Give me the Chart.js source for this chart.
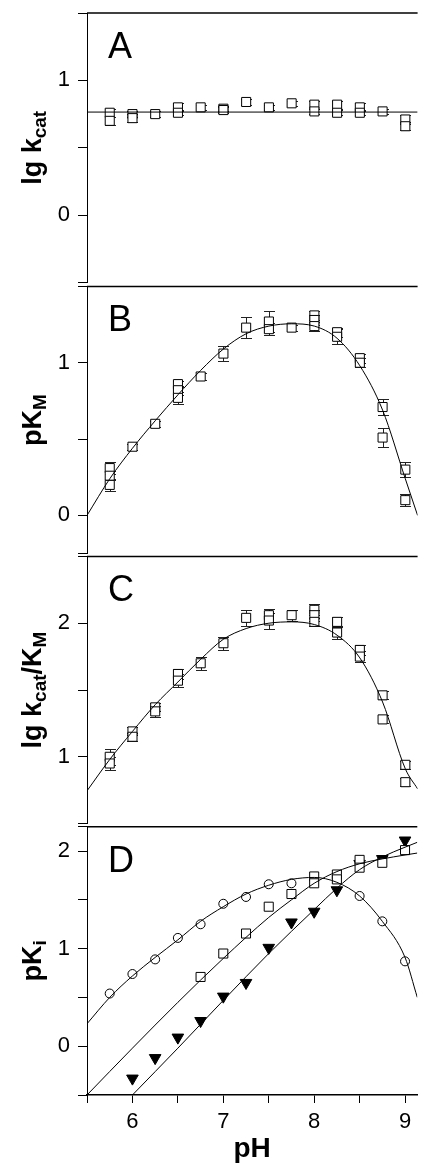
<!DOCTYPE html>
<html>
<head>
<meta charset="utf-8">
<script src="https://cdn.jsdelivr.net/npm/chart.js@4.4.1/dist/chart.umd.min.js"></script>
<style>
  html, body { margin: 0; padding: 0; background: #fff; }
  #wrap { position: relative; width: 425px; height: 1163px; overflow: hidden; }
  #wrap canvas { position: absolute; left: 0; }
</style>
</head>
<body>
<div id="wrap">
  <canvas id="chartA" width="425" height="290" style="top:0px"></canvas>
  <canvas id="chartB" width="425" height="282" style="top:279px"></canvas>
  <canvas id="chartC" width="425" height="282" style="top:549px"></canvas>
  <canvas id="chartD" width="425" height="344" style="top:819px"></canvas>
</div>
<script>
// pH axis
var phMin = 5.5, phMax = 9.135;
var xTicks = [5.5, 6, 6.5, 7, 7.5, 8, 8.5, 9];
var xTickLabels = [6, 7, 8, 9];

// Panel A: lg kcat
var phA = [5.75, 5.75, 6, 6, 6.25, 6.5, 6.5, 6.75, 7, 7, 7.25, 7.5, 7.75, 8, 8, 8.25, 8.25, 8.5, 8.5, 8.75, 9, 9];
var lgKcat = [0.76, 0.70, 0.75, 0.72, 0.75, 0.80, 0.76, 0.80, 0.79, 0.78, 0.84, 0.80, 0.83, 0.82, 0.77, 0.82, 0.76, 0.80, 0.76, 0.77, 0.71, 0.66];
var lgKcatErr = [0.03, 0.03, 0.02, 0.03, 0.02, 0.03, 0.02, 0.02, 0.02, 0.02, 0.02, 0.02, 0.02, 0.03, 0.02, 0.03, 0.02, 0.03, 0.02, 0.02, 0.03, 0.03];
var fitPhA = [5.5, 9.135];
var fitA = [0.765, 0.765];
var yTicksA = [-0.5, 0, 0.5, 1, 1.5];
var yLabelsA = [0, 1];

// Panel B: pKM
var phB = [5.75, 5.75, 5.75, 6, 6.25, 6.5, 6.5, 6.5, 6.75, 7, 7.25, 7.5, 7.5, 7.75, 8, 8, 8, 8.25, 8.25, 8.5, 8.5, 8.75, 8.75, 9, 9];
var pKM = [0.31, 0.26, 0.20, 0.45, 0.60, 0.86, 0.82, 0.77, 0.91, 1.06, 1.23, 1.27, 1.22, 1.23, 1.31, 1.28, 1.24, 1.20, 1.17, 1.03, 1.00, 0.71, 0.51, 0.30, 0.10];
var pKMErr = [0.04, 0.03, 0.04, 0.02, 0.02, 0.02, 0.03, 0.04, 0.02, 0.05, 0.07, 0.07, 0.04, 0.02, 0.03, 0.03, 0.03, 0.03, 0.05, 0.03, 0.03, 0.05, 0.06, 0.05, 0.04];
var fitPh = [5.5, 5.75, 6, 6.25, 6.5, 6.75, 7, 7.25, 7.5, 7.75, 8, 8.25, 8.5, 8.75, 9, 9.135];
var fitB = [0, 0.24, 0.44, 0.62, 0.79, 0.95, 1.09, 1.19, 1.24, 1.255, 1.24, 1.16, 0.98, 0.69, 0.24, 0.0];
var yTicksB = [-0.25, 0, 0.5, 1, 1.5];
var yLabelsB = [0, 1];

// Panel C: lg kcat/KM
var phC = [5.75, 5.75, 6, 6, 6.25, 6.25, 6.5, 6.5, 6.75, 7, 7.25, 7.5, 7.5, 7.75, 8, 8, 8, 8.25, 8.25, 8.5, 8.5, 8.75, 8.75, 9, 9];
var lgKcatKM = [1.00, 0.95, 1.19, 1.15, 1.37, 1.34, 1.62, 1.57, 1.70, 1.85, 2.04, 2.06, 2.02, 2.06, 2.10, 2.06, 2.01, 2.01, 1.93, 1.80, 1.75, 1.46, 1.28, 0.94, 0.81];
var lgKcatKMErr = [0.06, 0.05, 0.03, 0.03, 0.03, 0.04, 0.04, 0.05, 0.05, 0.05, 0.06, 0.05, 0.06, 0.04, 0.04, 0.04, 0.03, 0.04, 0.05, 0.04, 0.04, 0.03, 0.03, 0.03, 0.03];
var fitC = [0.745, 0.98, 1.19, 1.39, 1.56, 1.73, 1.88, 1.96, 2.0, 2.01, 1.99, 1.91, 1.74, 1.41, 0.91, 0.76];
var yTicksC = [0.5, 1, 1.5, 2, 2.5];
var yLabelsC = [1, 2];

// Panel D: pKi, three inhibitors
var phCircle = [5.75, 6, 6.25, 6.5, 6.75, 7, 7.25, 7.5, 7.75, 8.5, 8.75, 9];
var pKiCircle = [0.54, 0.74, 0.89, 1.11, 1.25, 1.46, 1.53, 1.66, 1.67, 1.54, 1.28, 0.87];
var phSquare = [6.75, 7, 7.25, 7.5, 7.75, 8, 8, 8.25, 8.25, 8.5, 8.5, 8.75, 9];
var pKiSquare = [0.71, 0.95, 1.155, 1.43, 1.56, 1.74, 1.67, 1.76, 1.71, 1.91, 1.83, 1.88, 2.01];
var phTriangle = [6, 6.25, 6.5, 6.75, 7, 7.25, 7.5, 7.75, 8, 8.25, 8.5, 8.75, 9];
var pKiTriangle = [-0.33, -0.12, 0.09, 0.26, 0.51, 0.65, 1.01, 1.27, 1.38, 1.60, 1.87, 1.92, 2.11];
var fitCircle = [0.23, 0.50, 0.72, 0.91, 1.09, 1.28, 1.43, 1.56, 1.65, 1.71, 1.73, 1.68, 1.54, 1.28, 0.91, 0.50];
var fitPhSquare = [5.5, 6, 6.5, 7, 7.5, 7.75, 8, 8.25, 8.5, 8.75, 9, 9.135];
var fitSquare = [-0.5, -0.02, 0.45, 0.90, 1.32, 1.50, 1.67, 1.79, 1.87, 1.92, 1.96, 1.98];
var fitPhTriangle = [6, 6.5, 7, 7.5, 8, 8.25, 8.5, 8.75, 9, 9.135];
var fitTriangle = [-0.5, -0.02, 0.47, 0.95, 1.40, 1.62, 1.81, 1.94, 2.04, 2.09];
var yTicksD = [-0.5, 0, 0.5, 1, 1.5, 2, 2.25];
var yLabelsD = [0, 1, 2];

var FONT = "'Liberation Sans', Arial, sans-serif";

function pts(xs, ys) {
  return xs.map(function(x, i) { return { x: x, y: ys[i] }; });
}

function markers(xs, ys, style, errs) {
  var ds = {
    data: pts(xs, ys),
    showLine: false,
    pointStyle: style,
    pointRadius: style === 'circle' ? 4.5 : (style === 'triangle' ? 6.7 : 6.4),
    pointRotation: style === 'triangle' ? 180 : 0,
    pointBorderColor: '#000',
    pointBorderWidth: 1,
    pointBackgroundColor: style === 'triangle' ? '#000' : '#fff',
    order: 2
  };
  if (errs) ds.errors = errs;
  return ds;
}

function curve(xs, ys) {
  return {
    data: pts(xs, ys),
    showLine: true,
    borderColor: '#000',
    borderWidth: 1,
    pointRadius: 0,
    cubicInterpolationMode: 'monotone',
    order: 1
  };
}

// error bars, panel frame line, letter and rotated y title with subscripts
var panelDecor = {
  id: 'panelDecor',
  beforeDatasetsDraw: function(chart) {
    var ctx = chart.ctx, xs = chart.scales.x, ys = chart.scales.y;
    ctx.save();
    ctx.strokeStyle = '#222';
    ctx.lineWidth = 1;
    chart.data.datasets.forEach(function(ds) {
      if (!ds.errors) return;
      ds.data.forEach(function(p, i) {
        var e = ds.errors[i];
        var x = Math.round(xs.getPixelForValue(p.x)) + 0.5;
        var y1 = Math.round(ys.getPixelForValue(p.y - e)) + 0.5;
        var y2 = Math.round(ys.getPixelForValue(p.y + e)) + 0.5;
        ctx.beginPath();
        ctx.moveTo(x, y1); ctx.lineTo(x, y2);
        ctx.moveTo(x - 5.5, y1); ctx.lineTo(x + 5.5, y1);
        ctx.moveTo(x - 5.5, y2); ctx.lineTo(x + 5.5, y2);
        ctx.stroke();
      });
    });
    ctx.restore();
  },
  afterDraw: function(chart, args, opts) {
    var ctx = chart.ctx, a = chart.chartArea;
    ctx.save();
    ctx.strokeStyle = '#000';
    ctx.lineWidth = 1.5;
    ctx.beginPath();
    ctx.moveTo(a.left, a.top);
    ctx.lineTo(a.right, a.top);
    ctx.stroke();

    ctx.fillStyle = '#000';
    ctx.font = '36px ' + FONT;
    ctx.textBaseline = 'alphabetic';
    ctx.fillText(opts.letter, a.left + 21, a.top + 45);

    // rotated title
    var parts = opts.title;
    var widths = parts.map(function(p) {
      ctx.font = 'bold ' + (p[1] ? 19 : 27) + 'px ' + FONT;
      return ctx.measureText(p[0]).width;
    });
    var total = widths.reduce(function(s, w) { return s + w; }, 0);
    ctx.translate(41, (a.top + a.bottom) / 2);
    ctx.rotate(-Math.PI / 2);
    var x = -total / 2;
    parts.forEach(function(p, i) {
      ctx.font = 'bold ' + (p[1] ? 19 : 27) + 'px ' + FONT;
      ctx.fillText(p[0], x, p[1] ? 5 : 0);
      x += widths[i];
    });
    ctx.restore();
  }
};

function setTicks(values) {
  return function(s) {
    s.ticks = values.map(function(v) { return { value: v }; });
  };
}

function makePanel(id, cfg) {
  var isBottom = !!cfg.bottom;
  return new Chart(document.getElementById(id), {
    type: 'scatter',
    data: { datasets: cfg.datasets },
    plugins: [panelDecor],
    options: {
      responsive: false,
      animation: false,
      devicePixelRatio: 1,
      layout: { padding: { top: cfg.padTop, bottom: isBottom ? 0 : 6, left: 0, right: 0 } },
      plugins: {
        legend: { display: false },
        tooltip: { enabled: false },
        panelDecor: { letter: cfg.letter, title: cfg.title }
      },
      scales: {
        x: {
          type: 'linear',
          min: phMin,
          max: phMax,
          display: isBottom,
          afterBuildTicks: setTicks(xTicks),
          afterFit: function(s) {
            if (isBottom) s.height = 68;
            s.paddingLeft = 0;
            s.paddingRight = 0;
          },
          border: { display: true, color: '#000', width: 1.5 },
          grid: { drawOnChartArea: false, drawTicks: true, tickLength: 8, color: '#000' },
          ticks: {
            autoSkip: false,
            maxRotation: 0,
            padding: 6,
            color: '#000',
            font: { family: FONT, size: 22 },
            callback: function(v) { return xTickLabels.indexOf(v) >= 0 ? String(v) : ''; }
          },
          title: {
            display: true,
            text: 'pH',
            color: '#000',
            padding: 0,
            font: { family: FONT, size: 28, weight: 'bold', lineHeight: 1 }
          }
        },
        y: {
          type: 'linear',
          min: cfg.yMin,
          max: cfg.yMax,
          afterBuildTicks: setTicks(cfg.yTicks),
          afterFit: function(s) {
            s.width = 87;
            s.paddingTop = 0;
            s.paddingBottom = 0;
          },
          border: { display: true, color: '#000', width: 1 },
          grid: { drawOnChartArea: false, drawTicks: true, tickLength: 9, color: '#000' },
          ticks: {
            autoSkip: false,
            padding: 8,
            color: '#000',
            font: { family: FONT, size: 22 },
            callback: function(v) { return cfg.yLabels.indexOf(v) >= 0 ? String(v) : ''; }
          }
        }
      }
    }
  });
}

makePanel('chartA', {
  letter: 'A', title: [['lg k', false], ['cat', true]],
  yMin: -0.5, yMax: 1.5, yTicks: yTicksA, yLabels: yLabelsA, padTop: 13,
  datasets: [curve(fitPhA, fitA), markers(phA, lgKcat, 'rect', lgKcatErr)]
});

makePanel('chartB', {
  letter: 'B', title: [['pK', false], ['M', true]],
  yMin: -0.25, yMax: 1.5, yTicks: yTicksB, yLabels: yLabelsB, padTop: 6,
  datasets: [curve(fitPh, fitB), markers(phB, pKM, 'rect', pKMErr)]
});

makePanel('chartC', {
  letter: 'C', title: [['lg k', false], ['cat', true], ['/K', false], ['M', true]],
  yMin: 0.5, yMax: 2.5, yTicks: yTicksC, yLabels: yLabelsC, padTop: 6,
  datasets: [curve(fitPh, fitC), markers(phC, lgKcatKM, 'rect', lgKcatKMErr)]
});

makePanel('chartD', {
  letter: 'D', title: [['pK', false], ['i', true]],
  yMin: -0.5, yMax: 2.25, yTicks: yTicksD, yLabels: yLabelsD, padTop: 6, bottom: true,
  datasets: [
    curve(fitPh, fitCircle),
    curve(fitPhSquare, fitSquare),
    curve(fitPhTriangle, fitTriangle),
    markers(phCircle, pKiCircle, 'circle'),
    markers(phSquare, pKiSquare, 'rect'),
    markers(phTriangle, pKiTriangle, 'triangle')
  ]
});
</script>
</body>
</html>
